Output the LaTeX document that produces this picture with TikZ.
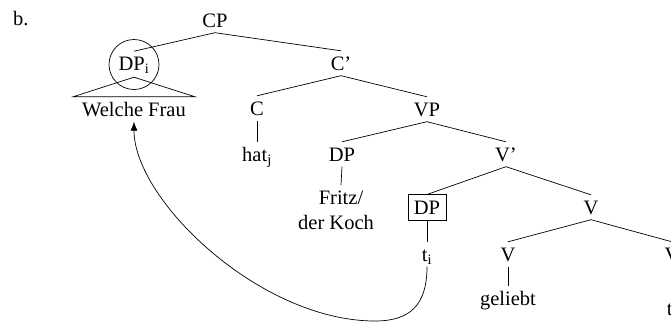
\documentclass[tikz,border=0pt]{standalone}
\usepackage{fontspec}
\setmainfont{Liberation Serif}
\usetikzlibrary{arrows.meta}
\begin{document}
\begin{tikzpicture}[x=1pt,y=-1pt,
  lbl/.style={inner sep=0pt, text height=19pt, text depth=5.5pt, anchor=base, font=\fontsize{20.5}{25}\selectfont},
  branch/.style={line width=0.7pt, black},
  boxed/.style={draw, line width=0.7pt, inner xsep=6pt, inner ysep=6pt, text height=13.4pt, text depth=0pt, font=\fontsize{20.5}{25}\selectfont},
  ringed/.style={circle, draw, line width=0.7pt, minimum size=50pt, inner sep=0pt, text height=13.4pt, text depth=2pt, font=\fontsize{20.5}{25}\selectfont}
]
\useasboundingbox (0,0) rectangle (671,322);
\clip (0,0) rectangle (671,322);
% nodes
\node[lbl, anchor=base west] (b) at (13,25) {b.};
\node[lbl] (cp) at (215,27) {CP};
\node[ringed] (dpi) at (134,64.5) {DP\textsubscript{i}};
\node[lbl] (wf) at (134,116) {Welche Frau};
\node[lbl] (cbar) at (341,70) {C'};
\node[lbl] (c) at (257,115) {C};
\node[lbl] (hat) at (257,161) {hat\textsubscript{j}};
\node[lbl] (vp) at (427,116) {VP};
\node[lbl] (dp) at (342,161) {DP};
\node[lbl] (fritz) at (341,204) {Fritz/};
\node[lbl] (koch) at (336,229) {der Koch};
\node[lbl] (vbar) at (506,161) {V'};
\node[boxed] (dpbox) at (427,207.5) {DP};
\node[lbl] (ti) at (427,261) {t\textsubscript{i}};
\node[lbl] (vmid) at (591,214) {V};
\node[lbl] (vl) at (508,261) {V};
\node[lbl] (geliebt) at (508,305) {geliebt};
\node[lbl] (vr) at (672,261) {V};
\node[lbl] (tj) at (672,315) {t\textsubscript{j}};
% branches
\draw[branch] (cp.south) -- ([yshift=19pt]dpi.base);
\draw[branch] (cp.south) -- (cbar.north);
\draw[branch] ([yshift=-7pt]dpi.base) -- ([xshift=-9pt]wf.north west) -- ([xshift=9pt]wf.north east) -- cycle;
\draw[branch] (cbar.south) -- (c.north);
\draw[branch] (cbar.south) -- (vp.north);
\draw[branch] (c.south) -- (hat.north);
\draw[branch] (vp.south) -- (dp.north);
\draw[branch] (vp.south) -- (vbar.north);
\draw[branch] (dp.south) -- (fritz.north);
\draw[branch] (vbar.south) -- (dpbox.north);
\draw[branch] (vbar.south) -- (vmid.north);
\draw[branch] (dpbox.south) -- (ti.north);
\draw[branch] (vmid.south) -- (vl.north);
\draw[branch] (vmid.south) -- (vr.north);
\draw[branch] (vl.south) -- (geliebt.north);
\draw[branch] (vr.south) -- (tj.north);
% movement arrow
\draw[branch, -{Latex[length=9pt,width=7pt]}] (ti.south) .. controls (427,305) and (410,321) .. (375,321) .. controls (260,321) and (134,200) .. (wf.south);
\end{tikzpicture}
\end{document}
